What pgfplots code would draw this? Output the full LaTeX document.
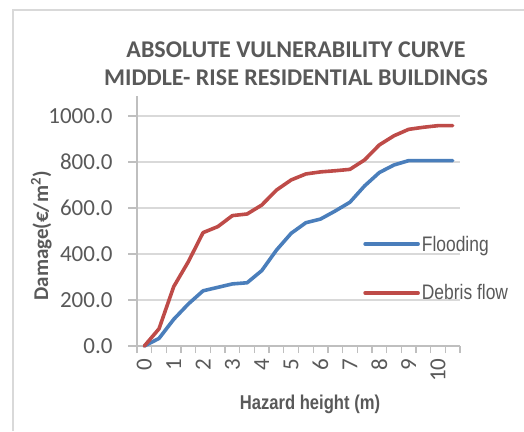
\documentclass[border=0pt]{standalone}
\usepackage{pgfplots}
\pgfplotsset{compat=1.18}
\usepackage{fontspec}
\setmainfont{Carlito}
\newfontfamily\narrowfont[FakeStretch=0.83]{Liberation Sans}

\definecolor{txtgray}{HTML}{595959}
\definecolor{gridgray}{HTML}{D9D9D9}
\definecolor{axisgray}{HTML}{BFBFBF}
\definecolor{floodblue}{HTML}{4A7EBB}
\definecolor{debrisred}{HTML}{BE4B48}

\begin{document}
\begin{tikzpicture}[x=1bp,y=1bp]
\useasboundingbox (0,0) rectangle (524,431);
% outer chart frame
\draw[gridgray, line width=1.5bp] (13,0) -- (13,421) -- (524,421);

\begin{axis}[
  scale only axis,
  width=323bp, height=250bp,
  at={(137bp,85bp)}, anchor=south west,
  xmin=-0.25, xmax=10.75,
  ymin=0, ymax=1087,
  axis x line*=bottom, axis y line*=left,
  axis line style={axisgray, line width=1.3bp},
  xtick={0,1,...,10},
  minor xtick={-0.25,0.25,...,10.75},
  ytick={0,200,...,1000},
  tick align=outside,
  major tick length=9bp,
  minor tick length=7bp,
  major x tick style={draw=none},
  minor x tick style={axisgray, line width=1.3bp},
  major y tick style={axisgray, line width=1.3bp},
  ymajorgrids,
  major grid style={gridgray, line width=1.3bp},
  /pgf/number format/assume math mode=true,
  yticklabel={\pgfmathprintnumber[fixed,fixed zerofill,precision=1,1000 sep={}]{\tick}},
  xticklabel={\pgfmathprintnumber{\tick}},
  tick label style={font=\fontsize{23bp}{27bp}\selectfont, text=txtgray},
  xticklabel style={rotate=90, anchor=east},
  yticklabel style={xshift=-12bp},
  legend style={draw=none, fill=none, at={(0.70,0.31)}, anchor=west,
    font=\narrowfont\fontsize{21bp}{25bp}\selectfont, text=txtgray,
    row sep=28bp, inner sep=0pt},
  legend cell align=left,
  legend image code/.code={\draw[#1] (0bp,0bp) -- (53bp,0bp);},
  clip=false,
]
\addplot[floodblue, line width=3.6bp, line join=round, line cap=round] coordinates {
  (0,0) (0.5,33) (1,116) (1.5,183) (2,240) (2.5,255) (3,270) (3.5,275)
  (4,328) (4.5,417) (5,490) (5.5,536) (6,552) (6.5,587) (7,625) (7.5,696)
  (8,754) (8.5,787) (9,806) (9.5,806) (10,806) (10.5,806)
};
\addlegendentry{Flooding}
\addplot[debrisred, line width=3.6bp, line join=round, line cap=round] coordinates {
  (0,0) (0.5,75) (1,258) (1.5,367) (2,493) (2.5,519) (3,567) (3.5,574)
  (4,613) (4.5,678) (5,722) (5.5,748) (6,757) (6.5,762) (7,768) (7.5,809)
  (8,874) (8.5,914) (9,942) (9.5,951) (10,958) (10.5,958)
};
\addlegendentry{Debris flow}
\end{axis}

% chart title
\node[anchor=base, text=txtgray, font=\bfseries\fontsize{24bp}{28bp}\selectfont] at (296,374) {ABSOLUTE VULNERABILITY CURVE};
\node[anchor=base, text=txtgray, font=\bfseries\fontsize{24bp}{28bp}\selectfont] at (296,346) {MIDDLE- RISE RESIDENTIAL BUILDINGS};
% axis titles
\node[anchor=base, text=txtgray, font=\narrowfont\bfseries\fontsize{20bp}{24bp}\selectfont] at (310,22) {Hazard height (m)};
\node[rotate=90, anchor=base, text=txtgray, font=\bfseries\fontsize{21bp}{25bp}\selectfont] at (48,195) {Damage(€/m\textsuperscript{2})};
\end{tikzpicture}
\end{document}
